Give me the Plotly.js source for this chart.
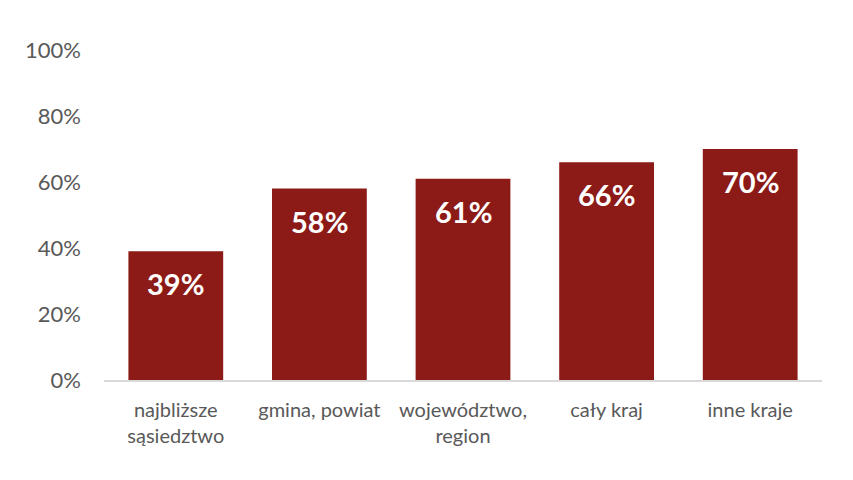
<!DOCTYPE html>
<html>
<head>
<meta charset="utf-8">
<script src="https://cdn.plot.ly/plotly-3.0.1.min.js"></script>
<style>
  html,body{margin:0;padding:0;background:#fff;}
  #chart{width:853px;height:480px;}
</style>
</head>
<body>
<div id="chart"></div>
<script>
// categories and shares
const CATEGORIES = ["najbliższe<br>sąsiedztwo", "gmina, powiat", "województwo,<br>region", "cały kraj", "inne kraje"];
const VALUES = [0.39, 0.58, 0.61, 0.66, 0.70];
const LABELS = ["39%", "58%", "61%", "66%", "70%"];
const Y_TICKS = [0, 0.2, 0.4, 0.6, 0.8, 1.0];

const BAR = '#8C1A17';
const FONT = 'Lato, "Open Sans", sans-serif';

const trace = {
  x: CATEGORIES, y: VALUES, type: 'bar',
  marker: {color: BAR, line: {width: 0}},
  hoverinfo: 'skip'
};

// value labels placed a little below each bar top
const annotations = CATEGORIES.map((c, i) => ({
  x: c, y: VALUES[i], text: '<b>' + LABELS[i] + '</b>',
  showarrow: false, yanchor: 'top', yshift: -13,
  font: {family: FONT, size: 29, color: '#ffffff'}
}));

const layout = {
  width: 853, height: 480,
  margin: {l: 104, r: 31, t: 50, b: 100},
  paper_bgcolor: '#ffffff', plot_bgcolor: '#ffffff',
  font: {family: FONT, color: '#595959'},
  bargap: 0.34,
  showlegend: false,
  xaxis: {
    showgrid: false, zeroline: false,
    showline: true, linecolor: '#d9d9d9', linewidth: 1.5,
    ticks: '', ticklabelstandoff: 11,
    tickfont: {family: FONT, size: 20, color: '#595959'}
  },
  yaxis: {
    range: [0, 1], showgrid: false, zeroline: false, showline: false,
    tickvals: Y_TICKS, tickformat: '.0%', ticks: '',
    ticklabelstandoff: 22,
    tickfont: {family: FONT, size: 22, color: '#595959'}
  },
  annotations
};

Plotly.newPlot('chart', [trace], layout, {displayModeBar: false, staticPlot: true});
</script>
</body>
</html>
